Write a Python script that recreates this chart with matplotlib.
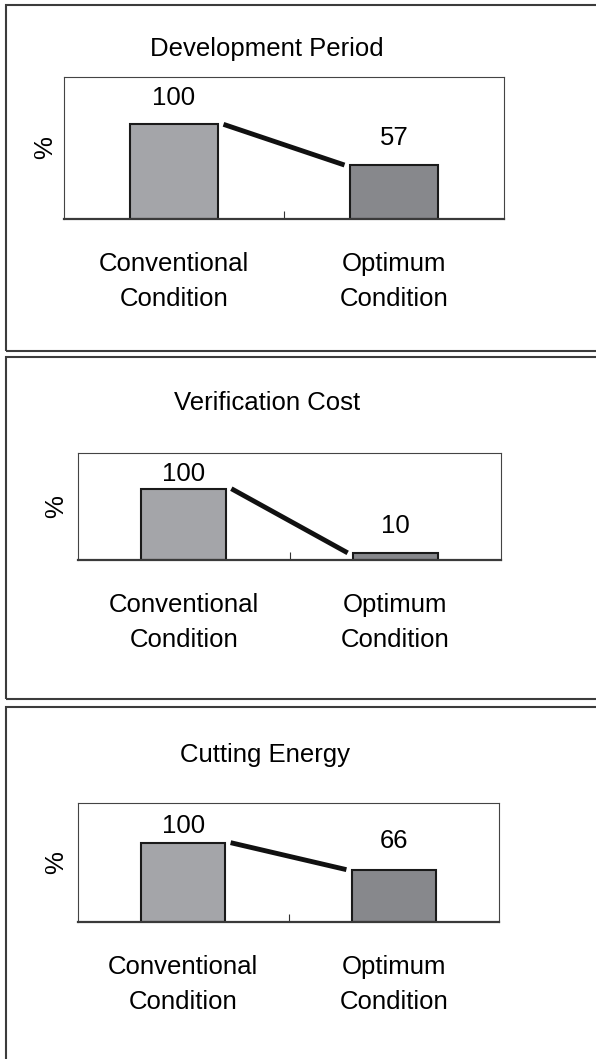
import matplotlib
matplotlib.use("Agg")
import matplotlib.pyplot as plt
from matplotlib.patches import Rectangle

plt.rcParams['font.family'] = ['Liberation Sans', 'DejaVu Sans']

W, H = 596, 1059

titles = ["Development Period", "Verification Cost", "Cutting Energy"]
categories = ["Conventional\nCondition", "Optimum\nCondition"]
conventional = [100, 100, 100]
optimum = [57, 10, 66]

bar_colors = ["#a4a5a9", "#87888c"]

# layout of each panel, in pixels from the top-left corner
frames = [(5, 351), (357, 699), (707, 1075)]
axes_boxes = [(64, 77, 504, 219), (78, 453, 501, 560), (78, 803, 499, 922)]
title_pos = [(267, 56), (267, 410), (265, 762)]
label_gaps = [(19, 20), (8, 20), (10, 22)]
ylabel_pads = [5, 7, 7]

FS = 18.5
BAR_W = 0.4


def draw_panel(fig, i):
    top, bottom = frames[i]
    fig.add_artist(Rectangle((6 / W, 1 - bottom / H), (W + 20) / W, (bottom - top) / H,
                             transform=fig.transFigure, fill=False,
                             edgecolor="#3c3c3c", linewidth=1.5))

    tx, ty = title_pos[i]
    fig.text(tx / W, 1 - ty / H, titles[i], ha="center", va="baseline", fontsize=FS)

    x0, y0, x1, y1 = axes_boxes[i]
    ax = fig.add_axes([x0 / W, 1 - y1 / H, (x1 - x0) / W, (y1 - y0) / H])

    values = [conventional[i], optimum[i]]
    ax.bar([0, 1], values, width=BAR_W, color=bar_colors,
           edgecolor="#1a1a1a", linewidth=1.5, zorder=2)

    # connector between the two bar tops
    gap = 0.025
    ax.plot([BAR_W / 2 + gap, 1 - BAR_W / 2 - gap], values,
            color="#111111", linewidth=3.5, solid_capstyle="butt", zorder=3)

    for x, v, g in zip([0, 1], values, label_gaps[i]):
        ax.annotate(str(v), (x, v), xytext=(0, g * 0.72), textcoords="offset points",
                    ha="center", va="baseline", fontsize=FS)

    ax.set_xlim(-0.5, 1.5)
    ax.set_ylim(0, 150)
    ax.set_yticks([])
    ax.set_xticks([0, 1], categories, fontsize=FS, linespacing=1.55)
    ax.set_xticks([0.5], minor=True)
    ax.tick_params(axis="x", which="major", length=0, pad=24)
    ax.tick_params(axis="x", which="minor", direction="in", length=6,
                   width=0.8, color="#333333")
    ax.set_ylabel("%", fontsize=FS, labelpad=ylabel_pads[i])

    for side in ["top", "left", "right"]:
        ax.spines[side].set_linewidth(0.8)
        ax.spines[side].set_color("#444444")
    ax.spines["bottom"].set_linewidth(1.6)
    ax.spines["bottom"].set_color("#3a3a3a")


fig = plt.figure(figsize=(W / 100, H / 100), dpi=100)
for i in range(len(titles)):
    draw_panel(fig, i)

fig.savefig("out.png", dpi=100)
